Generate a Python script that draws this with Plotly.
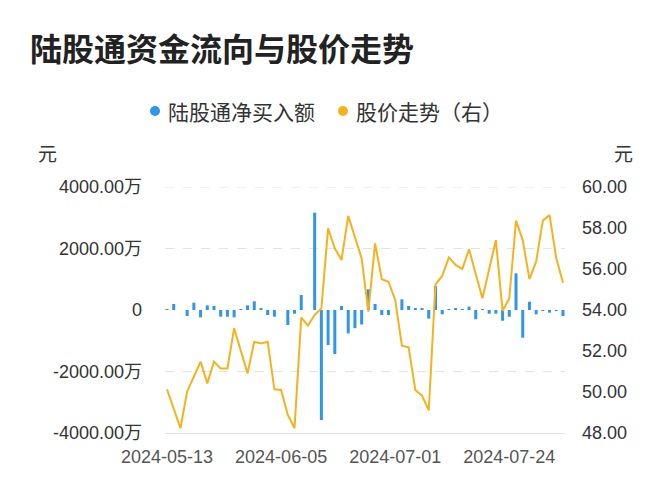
import plotly.graph_objects as go

dates = [
    "2024-05-13", "2024-05-14", "2024-05-15", "2024-05-16", "2024-05-17",
    "2024-05-20", "2024-05-21", "2024-05-22", "2024-05-23", "2024-05-24",
    "2024-05-27", "2024-05-28", "2024-05-29", "2024-05-30", "2024-05-31",
    "2024-06-03", "2024-06-04", "2024-06-05", "2024-06-06", "2024-06-07",
    "2024-06-11", "2024-06-12", "2024-06-13", "2024-06-14", "2024-06-17",
    "2024-06-18", "2024-06-19", "2024-06-20", "2024-06-21", "2024-06-24",
    "2024-06-25", "2024-06-26", "2024-06-27", "2024-06-28", "2024-07-01",
    "2024-07-02", "2024-07-03", "2024-07-04", "2024-07-05", "2024-07-08",
    "2024-07-09", "2024-07-10", "2024-07-11", "2024-07-12", "2024-07-15",
    "2024-07-16", "2024-07-17", "2024-07-18", "2024-07-19", "2024-07-22",
    "2024-07-23", "2024-07-24", "2024-07-25", "2024-07-26", "2024-07-29",
    "2024-07-30", "2024-07-31", "2024-08-01", "2024-08-02", "2024-08-05",
]

# 陆股通净买入额 (万元)
net_buy = [
    30, 195, 0, -195, 238, -238, 152, 130, -217, -217,
    -238, 20, 152, 282, 55, -163, -217, 0, -488, -120,
    488, 0, 3165, -3577, -1138, -1431, 130, -759, -590, -470,
    672, 195, -163, -163, 0, 347, 130, 43, 60, -280,
    780, -140, 30, 54, 30, 110, -300, 20, -120, -120,
    -350, -220, 1192, -900, 271, -141, -30, -87, -30, -195,
]

# 股价走势 (元)
price = [
    50.13, 49.19, 48.23, 50.02, 50.75, 51.48, 50.42, 51.48, 51.15, 51.15,
    53.11, 52.02, 50.91, 52.45, 52.37, 52.45, 50.13, 50.10, 48.88, 48.23,
    53.63, 53.24, 53.76, 54.08, 57.98, 57.01, 56.44, 58.59, 57.58, 56.52,
    53.92, 57.25, 55.50, 55.38, 54.49, 52.26, 52.18, 50.10, 49.82, 49.10,
    55.25, 55.66, 56.57, 56.20, 56.00, 56.96, 55.76, 54.57, 55.99, 57.41,
    53.95, 54.57, 58.36, 57.41, 55.51, 56.36, 58.36, 58.63, 56.52, 55.33,
]

x_ticks = ["2024-05-13", "2024-06-05", "2024-07-01", "2024-07-24"]
left_vals = [-4000, -2000, 0, 2000, 4000]
left_text = ["-4000.00万", "-2000.00万", "0", "2000.00万", "4000.00万"]
right_vals = [48, 50, 52, 54, 56, 58, 60]
right_text = ["48.00", "50.00", "52.00", "54.00", "56.00", "58.00", "60.00"]
grid_vals = [4000, 2000, -2000]

BLUE = "#2f96e8"
ORANGE = "#f5b21e"
TXT = "#333333"
GRID = "#e3e3e3"
FONT = "Liberation Sans, Noto Sans CJK SC, sans-serif"
CJK = "Noto Sans CJK SC, sans-serif"

fig = go.Figure()
fig.add_trace(go.Bar(x=dates, y=net_buy, name="陆股通净买入额",
                     marker=dict(color=BLUE, line=dict(width=0)),
                     showlegend=False, yaxis="y"))
fig.add_trace(go.Scatter(x=dates, y=price, name="股价走势（右）", mode="lines",
                         line=dict(color=ORANGE, width=2),
                         showlegend=False, yaxis="y2"))

shapes = []
for g in grid_vals:
    shapes.append(dict(type="line", xref="paper", x0=0, x1=1, yref="y", y0=g, y1=g,
                       line=dict(color=GRID, width=1, dash="dash"), layer="below"))

# legend markers
for xp, col in [(-0.025, BLUE), (0.445, ORANGE)]:
    shapes.append(dict(type="circle", xref="paper", yref="paper",
                       xsizemode="pixel", ysizemode="pixel",
                       xanchor=xp, yanchor=1.309, x0=-5, x1=5, y0=-5, y1=5,
                       fillcolor=col, line=dict(width=0)))

annotations = [
    dict(text="陆股通净买入额", xref="paper", yref="paper", x=0.003, y=1.309,
         xanchor="left", yanchor="middle", showarrow=False,
         font=dict(family=CJK, size=21, color=TXT)),
    dict(text="股价走势（右）", xref="paper", yref="paper", x=0.4725, y=1.309,
         xanchor="left", yanchor="middle", showarrow=False,
         font=dict(family=CJK, size=21, color=TXT)),
    dict(text="元", xref="paper", yref="paper", x=-0.295, y=1.142,
         xanchor="center", yanchor="middle", showarrow=False,
         font=dict(family=CJK, size=19, color=TXT)),
    dict(text="元", xref="paper", yref="paper", x=1.145, y=1.142,
         xanchor="center", yanchor="middle", showarrow=False,
         font=dict(family=CJK, size=19, color=TXT)),
]

fig.update_layout(
    width=672, height=500,
    margin=dict(l=165, r=107, t=187, b=67),
    paper_bgcolor="white", plot_bgcolor="white",
    title=dict(text="<b>陆股通资金流向与股价走势</b>", x=30 / 672, xanchor="left",
               y=1 - 50 / 500, yanchor="middle",
               font=dict(family=CJK, size=32, color="#222222")),
    bargap=0.55,
    showlegend=False,
    xaxis=dict(type="category", range=[-0.3, 59.3], tickmode="array",
               tickvals=x_ticks, ticktext=x_ticks, showgrid=False,
               showline=True, linecolor=GRID, linewidth=1, ticks="",
               ticklabelstandoff=7,
               tickfont=dict(family=FONT, size=18, color="#555555")),
    yaxis=dict(range=[-4000, 4000], tickmode="array", tickvals=left_vals,
               ticktext=left_text, showgrid=False, zeroline=False,
               showline=False, ticks="", ticklabelstandoff=22,
               tickfont=dict(family=FONT, size=18, color=TXT)),
    yaxis2=dict(range=[48, 60], overlaying="y", side="right", tickmode="array",
                tickvals=right_vals, ticktext=right_text, showgrid=False,
                zeroline=False, showline=False, ticks="", ticklabelstandoff=16,
                tickfont=dict(family=FONT, size=18, color=TXT)),
    shapes=shapes,
    annotations=annotations,
)

fig.write_html("out.html")
